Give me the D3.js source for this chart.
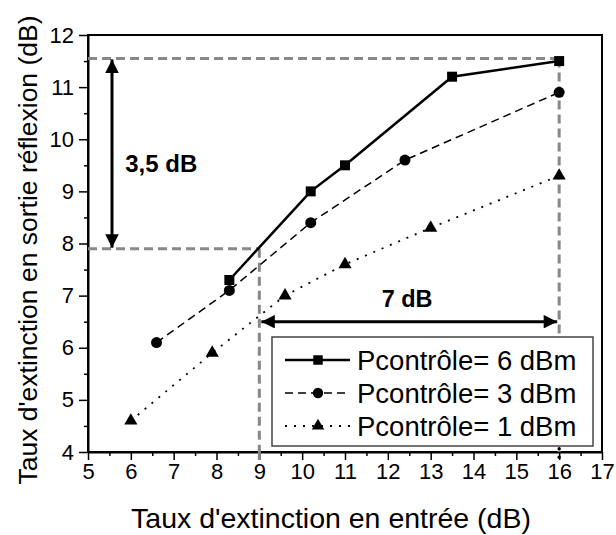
<!DOCTYPE html>
<html>
<head>
<meta charset="utf-8">
<script src="https://cdn.jsdelivr.net/npm/d3@7"></script>
<style>
  body { margin: 0; background: #fff; }
  svg text { font-family: Arial, "Liberation Sans", sans-serif; }
</style>
</head>
<body>
<div id="chart"></div>
<script>
// series
var x6 = [8.3, 10.2, 11.0, 13.5, 16.0],
    y6 = [7.3, 9.0, 9.5, 11.2, 11.5];
var x3 = [6.6, 8.3, 10.2, 12.4, 16.0],
    y3 = [6.1, 7.1, 8.4, 9.6, 10.9];
var x1 = [6.0, 7.9, 9.6, 11.0, 13.0, 16.0],
    y1 = [4.6, 5.9, 7.0, 7.6, 8.3, 9.3];
var labels = ['Pcontrôle= 6 dBm', 'Pcontrôle= 3 dBm', 'Pcontrôle= 1 dBm'];
var xTicks = [5, 6, 7, 8, 9, 10, 11, 12, 13, 14, 15, 16, 17];
var yTicks = [4, 5, 6, 7, 8, 9, 10, 11, 12];
// annotation values
var topLevel = 11.55, lowLevel = 7.9, xLow = 9, xHigh = 16, arrowX = 5.56, arrowY = 6.5;

var W = 616, H = 535;
var margins = {top: 35, right: 14, bottom: 83, left: 88},
    width = W - margins.left - margins.right,
    height = H - margins.top - margins.bottom;

var svg = d3.select('#chart').append('svg').attr('width', W).attr('height', H);
var defs = svg.append('defs');
defs.append('marker').attr('id', 'ah').attr('viewBox', '0 0 10 10')
  .attr('refX', 10).attr('refY', 5).attr('markerWidth', 6.5).attr('markerHeight', 4.5)
  .attr('markerUnits', 'strokeWidth').attr('orient', 'auto-start-reverse')
  .append('path').attr('d', 'M0,0L10,5L0,10Z').attr('fill', '#000');

var g = svg.append('g').attr('transform', 'translate(' + margins.left + ',' + margins.top + ')');

var xScale = d3.scaleLinear().domain([5, 17]).range([0, width]);
var yScale = d3.scaleLinear().domain([4, 12]).range([height, 0]);

// minor ticks
var xMinor = d3.range(5.5, 17, 1), yMinor = d3.range(4.5, 12, 1);
g.append('g').attr('transform', 'translate(0,' + height + ')')
  .call(d3.axisBottom(xScale).tickValues(xMinor).tickSize(4).tickFormat(''))
  .call(function(a) { a.select('.domain').remove(); a.selectAll('line').attr('stroke-width', 1.5); });
g.append('g')
  .call(d3.axisLeft(yScale).tickValues(yMinor).tickSize(4).tickFormat(''))
  .call(function(a) { a.select('.domain').remove(); a.selectAll('line').attr('stroke-width', 1.5); });

// major axes
var bAxis = g.append('g').attr('transform', 'translate(0,' + height + ')')
  .call(d3.axisBottom(xScale).tickValues(xTicks).tickSize(8).tickSizeOuter(0).tickPadding(3));
var lAxis = g.append('g')
  .call(d3.axisLeft(yScale).tickValues(yTicks).tickSize(9).tickSizeOuter(0).tickPadding(5));
[bAxis, lAxis].forEach(function(a) {
  a.select('.domain').attr('stroke-width', 2);
  a.selectAll('line').attr('stroke-width', 1.5);
  a.selectAll('text').attr('font-size', 22).attr('fill', '#000')
    .style('font-family', 'Arial, "Liberation Sans", sans-serif');
});

// frame
g.append('rect').attr('width', width).attr('height', height)
  .attr('fill', 'none').attr('stroke', '#000').attr('stroke-width', 2);

// gray dashed guides
var gray = '#888';
var guides = [
  [[5, topLevel], [xHigh, topLevel]],
  [[xHigh, topLevel], [xHigh, 4]],
  [[5, lowLevel], [xLow, lowLevel]],
  [[xLow, lowLevel], [xLow, 4]]
];
var seg = d3.line().x(function(d) { return xScale(d[0]); }).y(function(d) { return yScale(d[1]); });
guides.forEach(function(p) {
  g.append('path').attr('d', seg(p)).attr('fill', 'none')
    .attr('stroke', gray).attr('stroke-width', 3).attr('stroke-dasharray', '9,5');
});
g.append('line').attr('x1', xScale(xLow)).attr('x2', xScale(xLow))
  .attr('y1', height).attr('y2', height + 8).attr('stroke', gray).attr('stroke-width', 3);
// black dotted bit below x=16
g.append('line').attr('x1', xScale(xHigh)).attr('x2', xScale(xHigh))
  .attr('y1', yScale(4.55)).attr('y2', height + 11)
  .attr('stroke', '#000').attr('stroke-width', 3.5).attr('stroke-linecap', 'round')
  .attr('stroke-dasharray', '0,8.5');

// series
var series = [
  {xs: x6, ys: y6, dash: null, w: 2.5, sym: d3.symbolSquare, size: 100},
  {xs: x3, ys: y3, dash: '8,5', w: 1.5, sym: d3.symbolCircle, size: 95},
  {xs: x1, ys: y1, dash: '2,7', w: 1.8, sym: d3.symbolTriangle, size: 75}
];
series.forEach(function(s) {
  var pts = s.xs.map(function(x, i) { return [x, s.ys[i]]; });
  g.append('path').attr('d', seg(pts)).attr('fill', 'none').attr('stroke', '#000')
    .attr('stroke-width', s.w).attr('stroke-dasharray', s.dash);
  g.selectAll(null).data(pts).enter().append('path')
    .attr('d', d3.symbol().type(s.sym).size(s.size))
    .attr('transform', function(d) { return 'translate(' + xScale(d[0]) + ',' + yScale(d[1]) + ')'; })
    .attr('fill', '#000');
});

// double arrows
g.append('line').attr('x1', xScale(arrowX)).attr('x2', xScale(arrowX))
  .attr('y1', yScale(topLevel) + 1).attr('y2', yScale(lowLevel) - 1)
  .attr('stroke', '#000').attr('stroke-width', 3)
  .attr('marker-start', 'url(#ah)').attr('marker-end', 'url(#ah)');
g.append('line').attr('x1', xScale(xLow) + 2).attr('x2', xScale(xHigh) - 2)
  .attr('y1', yScale(arrowY)).attr('y2', yScale(arrowY))
  .attr('stroke', '#000').attr('stroke-width', 3)
  .attr('marker-start', 'url(#ah)').attr('marker-end', 'url(#ah)');

g.append('text').attr('x', xScale(5.87)).attr('y', yScale(9.38))
  .attr('font-size', 24).attr('font-weight', 'bold').text('3,5 dB');
g.append('text').attr('x', xScale(12.45)).attr('y', yScale(6.78))
  .attr('text-anchor', 'middle').attr('font-size', 23.5).attr('font-weight', 'bold').text('7 dB');

// legend
var lg = svg.append('g').attr('transform', 'translate(272,337)');
lg.append('rect').attr('width', 321).attr('height', 109)
  .attr('fill', '#fff').attr('stroke', '#444').attr('stroke-width', 1.5);
labels.forEach(function(l, i) {
  var s = series[i], yy = 23 + i * 33;
  lg.append('line').attr('x1', 13).attr('x2', 78).attr('y1', yy).attr('y2', yy)
    .attr('stroke', '#000').attr('stroke-width', s.w).attr('stroke-dasharray', s.dash);
  lg.append('path').attr('d', d3.symbol().type(s.sym).size(s.size * 0.9))
    .attr('transform', 'translate(46,' + yy + ')').attr('fill', '#000');
  lg.append('text').attr('x', 85).attr('y', yy + 10).attr('font-size', 27.5).text(l);
});

// axis titles
svg.append('text').attr('x', 331).attr('y', 528).attr('text-anchor', 'middle')
  .attr('font-size', 28.5).text("Taux d'extinction en entrée (dB)");
svg.append('text').attr('transform', 'translate(37,250) rotate(-90)').attr('text-anchor', 'middle')
  .attr('font-size', 26.5).text("Taux d'extinction en sortie réflexion (dB)");
</script>
</body>
</html>
